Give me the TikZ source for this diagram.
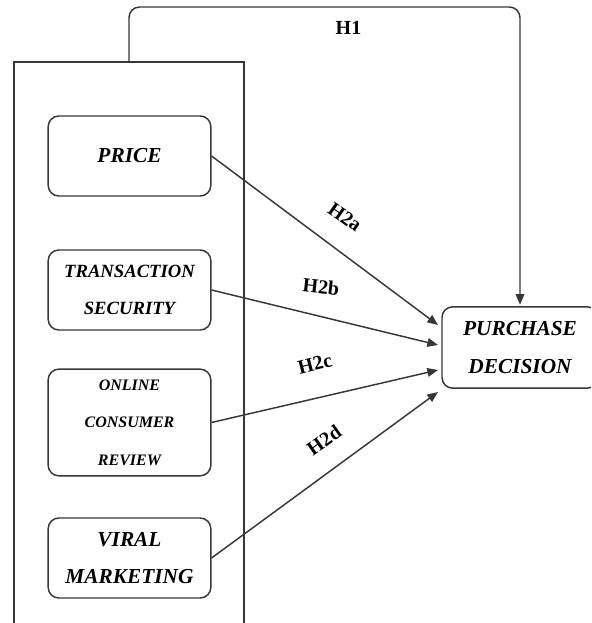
\documentclass[tikz,border=0pt]{standalone}
\usepackage{fontspec}
\setmainfont{Liberation Serif}
\usetikzlibrary{arrows.meta}
\definecolor{linegray}{RGB}{55,55,55}

\begin{document}
\begin{tikzpicture}[x=0.75pt, y=-0.75pt,
  factor/.style={draw=linegray, line width=1.1pt, rounded corners=8pt,
    minimum width=122pt, align=center, inner sep=0pt},
  hyp/.style={font=\fontsize{15}{18}\selectfont\bfseries, inner sep=1pt},
  link/.style={draw=linegray, line width=1.1pt, -{Triangle[length=8pt,width=6.5pt]}}
  ]
  \clip (0,0) rectangle (591,623);
  % frame round the independent variables
  \draw [linegray, line width=1.1pt] (14,640) -- (14,62) -- (244,62) -- (244,640);
  \coordinate (h1from) at (129,62);
  \node [factor, minimum height=60pt, font=\fontsize{16}{28}\selectfont\bfseries\itshape]
    (price) at (129.5,156) {PRICE};
  \node [factor, minimum height=60pt, font=\fontsize{14}{28}\selectfont\bfseries\itshape]
    (security) at (129.5,290) {TRANSACTION\\SECURITY};
  \node [factor, minimum height=80pt, font=\fontsize{12}{28}\selectfont\bfseries\itshape]
    (review) at (129.5,422.5) {ONLINE\\CONSUMER\\REVIEW};
  \node [factor, minimum height=60pt, font=\fontsize{16}{28}\selectfont\bfseries\itshape]
    (viral) at (129.5,558) {VIRAL\\MARKETING};
  \node [factor, minimum width=117pt, minimum height=61pt, font=\fontsize{16}{28}\selectfont\bfseries\itshape]
    (decision) at (520,347.5) {PURCHASE\\DECISION};

  \coordinate (ina) at (438,325);
  \coordinate (inb) at (438,345);
  \coordinate (inc) at (438,370);
  \coordinate (ind) at (438,392);

  \draw [link, rounded corners=8pt] (h1from) -- ++(0,-55) -| ([yshift=1pt]decision.north);
  \draw [link] (price.east) -- (ina);
  \draw [link] (security.east) -- (inb);
  \draw [link] (review.east) -- (inc);
  \draw [link] (viral.east) -- (ind);

  \node [hyp] (h1) at (348.5,28) {H1};
  \node [hyp, rotate=-35] (h2a) at (345,217) {H2a};
  \node [hyp, rotate=-6] (h2b) at (321,287) {H2b};
  \node [hyp, rotate=14] (h2c) at (315,364) {H2c};
  \node [hyp, rotate=35] (h2d) at (324,440) {H2d};
\end{tikzpicture}
\end{document}
